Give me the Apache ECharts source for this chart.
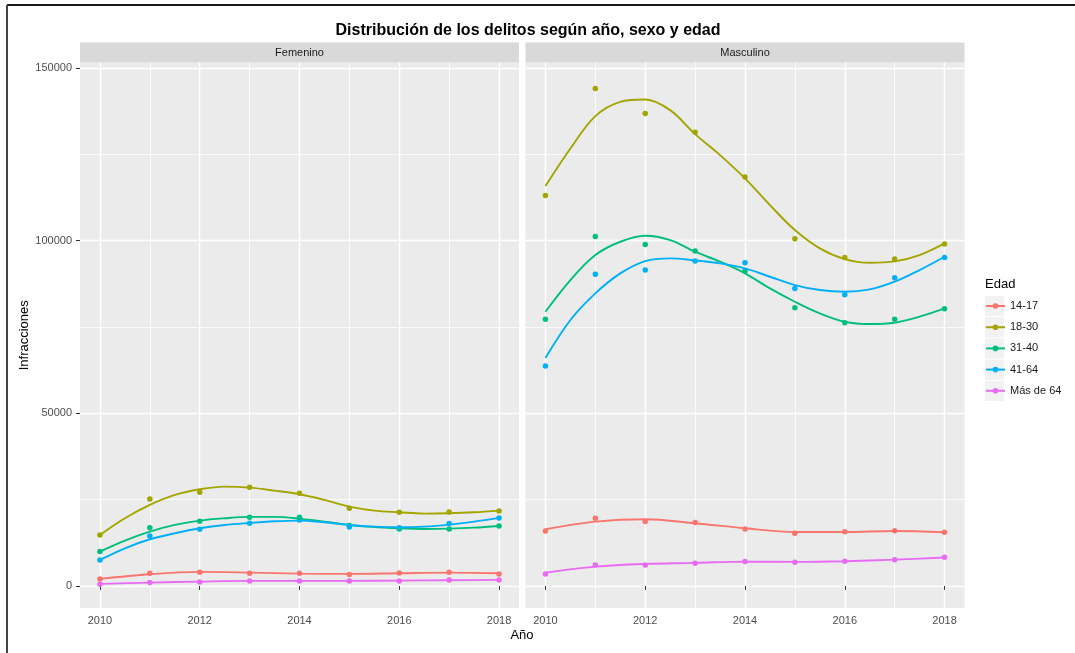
<!DOCTYPE html>
<html>
<head>
<meta charset="utf-8">
<title>Distribución de los delitos</title>
<script src="https://cdn.jsdelivr.net/npm/echarts@6/dist/echarts.min.js"></script>
<style>
  body { margin: 0; background: #fff; }
  #chart { width: 1075px; height: 653px; }
</style>
</head>
<body>
<div id="chart"></div>
<script>
// ---- data ----
const panels = ['Femenino', 'Masculino'];
const ageGroups = ['14-17', '18-30', '31-40', '41-64', 'Más de 64'];
const years = [2010, 2011, 2012, 2013, 2014, 2015, 2016, 2017, 2018];
const fineYears = [2010, 2010.5, 2011, 2011.5, 2012, 2012.5, 2013, 2013.5, 2014,
                   2014.5, 2015, 2015.5, 2016, 2016.5, 2017, 2017.5, 2018];
const xTicks = [2010, 2012, 2014, 2016, 2018];
const xMinor = [2011, 2013, 2015, 2017];
const yTicks = [0, 50000, 100000, 150000];
const yMinor = [25000, 75000, 125000];

// observed counts
const femPts1417 = [2030, 3670, 3960, 3670, 3670, 3280, 3760, 3960, 3470];
const femPts1830 = [14760, 25190, 27120, 28570, 26830, 22490, 21330, 21420, 21710];
const femPts3140 = [9930, 16880, 18730, 19890, 19890, 17500, 16500, 16500, 17370];
const femPts4164 = [7530, 14480, 16410, 18150, 19100, 17080, 16880, 18040, 19690];
const femPtsMas64 = [490, 960, 1160, 1450, 1450, 1450, 1450, 1740, 1740];

const masPts1417 = [15920, 19590, 18620, 18330, 16500, 15250, 15720, 16010, 15540];
const masPts1830 = [113100, 144080, 136840, 131430, 118410, 100550, 95150, 94670, 99010];
const masPts3140 = [77200, 101230, 98920, 96980, 91190, 80570, 76230, 77200, 80280];
const masPts4164 = [63690, 90240, 91480, 94090, 93600, 86170, 84340, 89260, 95150];
const masPtsMas64 = [3470, 6080, 6080, 6570, 7040, 6860, 7150, 7610, 8310];

// smoothed (loess) curves
const femFit1417 = [2030, 3380, 4050, 3860, 3570, 3470, 3670, 3860, 3670];
const femFit1830 = [14760, 19590, 23450, 26340, 27990, 28760, 28470, 27600, 26540,
                    24900, 22970, 21810, 21330, 20940, 21040, 21330, 21810];
const femFit3140 = [9940, 13130, 15730, 17660, 18920, 19590, 19980, 19980, 19490,
                    18630, 17660, 17080, 16690, 16500, 16600, 16890, 17370];
const femFit4164 = [7530, 10900, 13510, 15250, 16690, 17660, 18240, 18720, 18920,
                    18430, 17660, 17180, 16980, 17180, 17760, 18630, 19690];
const femFitMas64 = [580, 960, 1250, 1450, 1450, 1450, 1540, 1640, 1740];

const masFit1417 = [16410, 18620, 19310, 18150, 16700, 15630, 15630, 15920, 15540];
const masFit1830 = [115800, 126700, 136070, 140210, 140890, 137800, 130850, 124770, 118020,
                    110300, 103060, 97750, 94670, 93600, 94000, 95820, 99200];
const masFit3140 = [79420, 88590, 95820, 99680, 101420, 100170, 96790, 93890, 90520,
                    86170, 82310, 78940, 76520, 75850, 76230, 77970, 80380];
const masFit4164 = [66010, 77010, 84730, 90520, 94090, 94860, 94280, 93410, 91960,
                    89550, 87140, 85690, 85210, 85880, 88110, 91480, 95340];
const masFitMas64 = [3850, 5590, 6370, 6660, 7040, 6950, 7150, 7610, 8210];

const colors = ['#F8766D', '#A3A500', '#00BF7D', '#00B0F6', '#E76BF3'];

const pointSets = [
  [femPts1417, femPts1830, femPts3140, femPts4164, femPtsMas64],
  [masPts1417, masPts1830, masPts3140, masPts4164, masPtsMas64]
];
const fitSets = [
  [[years, femFit1417], [fineYears, femFit1830], [fineYears, femFit3140], [fineYears, femFit4164], [years, femFitMas64]],
  [[years, masFit1417], [fineYears, masFit1830], [fineYears, masFit3140], [fineYears, masFit4164], [years, masFitMas64]]
];

const FONT = 'Liberation Sans, Arial, sans-serif';
const zip = (xs, vs) => xs.map((x, i) => [x, vs[i]]);

// ---- layout ----
const panelLeft = [80, 525.5];
const panelW = 439;
const panelTop = 62.5;
const panelH = 545.5;

const grids = panels.map((p, i) => ({
  left: panelLeft[i], top: panelTop, width: panelW, height: panelH,
  show: true, backgroundColor: '#EBEBEB', borderWidth: 0
}));

const xAxes = [];
const yAxes = [];
panels.forEach((p, i) => {
  xAxes.push({
    type: 'value', gridIndex: i, min: 2009.6, max: 2018.4,
    axisLine: { show: false },
    axisTick: { show: true, customValues: xTicks, length: 4, lineStyle: { color: '#333', width: 1 } },
    axisLabel: { customValues: xTicks, formatter: v => String(v), color: '#4D4D4D',
                 fontSize: 11, fontFamily: FONT, margin: 7 },
    splitLine: { show: true, lineStyle: { color: '#FFFFFF', width: 1.4 } }
  });
  xAxes.push({
    type: 'value', gridIndex: i, min: 2009.6, max: 2018.4,
    axisLine: { show: false },
    axisTick: { show: false, customValues: xMinor },
    axisLabel: { show: false, customValues: xMinor },
    splitLine: { show: true, lineStyle: { color: '#FFFFFF', width: 0.8 } }
  });
  yAxes.push({
    type: 'value', gridIndex: i, min: -6400, max: 151600,
    axisLine: { show: false },
    axisTick: { show: i === 0, customValues: yTicks, length: 4, lineStyle: { color: '#333', width: 1 } },
    axisLabel: { show: i === 0, customValues: yTicks, formatter: v => String(v), color: '#4D4D4D',
                 fontSize: 11, fontFamily: FONT, margin: 8 },
    splitLine: { show: true, lineStyle: { color: '#FFFFFF', width: 1.4 } },
    name: i === 0 ? 'Infracciones' : '',
    nameLocation: 'middle', nameGap: 41,
    nameTextStyle: { color: '#000', fontSize: 13, fontFamily: FONT }
  });
  yAxes.push({
    type: 'value', gridIndex: i, min: -6400, max: 151600, position: 'left',
    axisLine: { show: false },
    axisTick: { show: false, customValues: yMinor },
    axisLabel: { show: false, customValues: yMinor },
    splitLine: { show: true, lineStyle: { color: '#FFFFFF', width: 0.8 } }
  });
});

const series = [];
panels.forEach((p, i) => {
  ageGroups.forEach((g, k) => {
    const fit = fitSets[i][k];
    series.push({
      type: 'line', name: g, xAxisIndex: i * 2, yAxisIndex: i * 2,
      data: zip(fit[0], fit[1]), smooth: 0.35, showSymbol: false, symbol: 'circle',
      lineStyle: { color: colors[k], width: 1.9 }, itemStyle: { color: colors[k] },
      clip: false, silent: true, z: 3
    });
  });
});
panels.forEach((p, i) => {
  ageGroups.forEach((g, k) => {
    series.push({
      type: 'scatter', name: g, xAxisIndex: i * 2, yAxisIndex: i * 2,
      data: zip(years, pointSets[i][k]), symbolSize: 5.5,
      itemStyle: { color: colors[k], opacity: 1 }, clip: false, z: 2
    });
  });
});

const graphics = [
  { type: 'line', shape: { x1: 7, y1: 5, x2: 1075, y2: 5 }, style: { stroke: '#1A1A1A', lineWidth: 2 } },
  { type: 'line', shape: { x1: 7, y1: 5, x2: 7, y2: 653 }, style: { stroke: '#444', lineWidth: 2 } },
  { type: 'text', x: 522, y: 635, style: { text: 'Año', font: '13px ' + FONT, fill: '#000',
    align: 'center', verticalAlign: 'middle' } },
  { type: 'text', x: 985, y: 284, style: { text: 'Edad', font: '13px ' + FONT, fill: '#000',
    align: 'left', verticalAlign: 'middle' } }
];
panels.forEach((p, i) => {
  graphics.push({ type: 'rect', shape: { x: panelLeft[i], y: 42.5, width: panelW, height: 20 },
    style: { fill: '#D9D9D9' } });
  graphics.push({ type: 'text', x: panelLeft[i] + panelW / 2, y: 53,
    style: { text: p, font: '11px ' + FONT, fill: '#1A1A1A', align: 'center', verticalAlign: 'middle' } });
});
ageGroups.forEach((g, k) => {
  graphics.push({ type: 'rect', shape: { x: 985, y: 296 + k * 21.2, width: 19, height: 20.2 },
    style: { fill: '#F2F2F2' } });
});

const option = {
  animation: false,
  title: {
    text: 'Distribución de los delitos según año, sexo y edad',
    left: 523, top: 18, textAlign: 'center',
    textStyle: { fontSize: 16, fontWeight: 'bold', color: '#000', fontFamily: FONT }
  },
  legend: {
    data: ageGroups, orient: 'vertical', left: 985, top: 300.5, padding: 0,
    itemWidth: 19, itemHeight: 7, itemGap: 10.2,
    textStyle: { fontSize: 11, color: '#1A1A1A', fontFamily: FONT },
    selectedMode: false
  },
  grid: grids,
  xAxis: xAxes,
  yAxis: yAxes,
  series: series,
  graphic: graphics
};

const chart = echarts.init(document.getElementById('chart'));
chart.setOption(option);
</script>
</body>
</html>
